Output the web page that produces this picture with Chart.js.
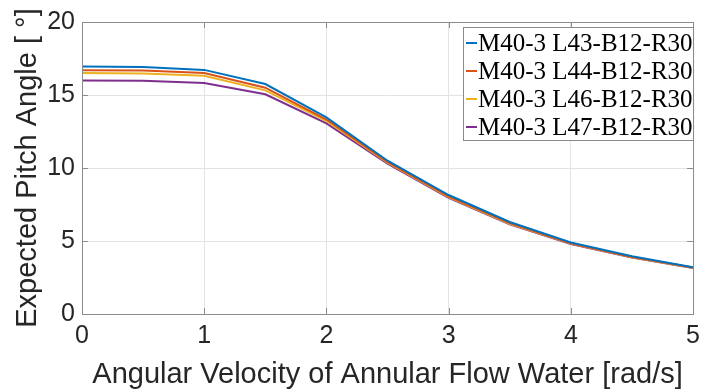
<!DOCTYPE html>
<html>
<head>
<meta charset="utf-8">
<script src="https://cdn.jsdelivr.net/npm/chart.js@4"></script>
<style>
  html, body { margin: 0; padding: 0; background: #fff; }
  #wrap { width: 707px; height: 392px; }
</style>
</head>
<body>
<div id="wrap"><canvas id="chart" width="707" height="392"></canvas></div>
<script>
var omega = [0, 0.5, 1, 1.5, 2, 2.5, 3, 3.5, 4, 4.5, 5];
var seriesNames = ['M40-3 L43-B12-R30', 'M40-3 L44-B12-R30', 'M40-3 L46-B12-R30', 'M40-3 L47-B12-R30'];
var pitchL43 = [16.95, 16.92, 16.72, 15.75, 13.47, 10.5, 8.15, 6.3, 4.9, 3.95, 3.2];
var pitchL44 = [16.7, 16.68, 16.5, 15.5, 13.32, 10.42, 8.05, 6.22, 4.85, 3.9, 3.18];
var pitchL46 = [16.5, 16.48, 16.32, 15.32, 13.22, 10.36, 8.0, 6.18, 4.82, 3.88, 3.17];
var pitchL47 = [16.0, 15.97, 15.82, 15.05, 13.05, 10.3, 7.95, 6.15, 4.8, 3.87, 3.15];
var xTicks = [0, 1, 2, 3, 4, 5];
var yTicks = [0, 5, 10, 15, 20];

var colors = ['#0072BD', '#D95319', '#EDB120', '#7E2F8E'];
var allSeries = [pitchL43, pitchL44, pitchL46, pitchL47];

var datasets = [];
for (var i = 0; i < allSeries.length; i++) {
    datasets.push({
        label: seriesNames[i],
        data: omega.map(function(x, j) { return {x: x, y: allSeries[i][j]}; }),
        borderColor: colors[i],
        backgroundColor: colors[i],
        borderWidth: 2,
        pointRadius: 0,
        tension: 0,
        fill: false
    });
}

// legend box drawn inside the plot, top right
var boxLegend = {
    id: 'boxLegend',
    afterDraw: function(chart) {
        var ctx = chart.ctx;
        var x0 = 463, y0 = 27, w = 230, h = 113;
        ctx.save();
        ctx.fillStyle = '#fff';
        ctx.fillRect(x0, y0, w, h);
        ctx.strokeStyle = '#8a8a8a';
        ctx.lineWidth = 1;
        ctx.strokeRect(x0 + 0.5, y0 + 0.5, w, h);
        ctx.font = '25px "Liberation Serif", "Times New Roman", serif';
        ctx.textBaseline = 'middle';
        chart.data.datasets.forEach(function(ds, k) {
            var yy = y0 + 16 + k * 28;
            ctx.strokeStyle = ds.borderColor;
            ctx.lineWidth = 2;
            ctx.beginPath();
            ctx.moveTo(x0 + 3, yy);
            ctx.lineTo(x0 + 14, yy);
            ctx.stroke();
            ctx.fillStyle = '#000';
            ctx.fillText(ds.label, x0 + 15, yy + 1);
        });
        ctx.restore();
    }
};

// box around plot + inward ticks (matlab style)
var frame = {
    id: 'frame',
    afterDatasetsDraw: function(chart) {
        var a = chart.chartArea, ctx = chart.ctx;
        var xs = chart.scales.x, ys = chart.scales.y;
        ctx.save();
        ctx.strokeStyle = '#8c8c8c';
        ctx.lineWidth = 1;
        ctx.strokeRect(a.left + 0.5, a.top + 0.5, a.right - a.left, a.bottom - a.top);
        ctx.beginPath();
        xTicks.forEach(function(t) {
            var px = Math.round(xs.getPixelForValue(t)) + 0.5;
            ctx.moveTo(px, a.bottom); ctx.lineTo(px, a.bottom - 6);
            ctx.moveTo(px, a.top); ctx.lineTo(px, a.top + 6);
        });
        yTicks.forEach(function(t) {
            var py = Math.round(ys.getPixelForValue(t)) + 0.5;
            ctx.moveTo(a.left, py); ctx.lineTo(a.left + 6, py);
            ctx.moveTo(a.right, py); ctx.lineTo(a.right - 6, py);
        });
        ctx.stroke();
        ctx.restore();
    }
};

var tickFont = { family: '"Liberation Sans", Arial, sans-serif', size: 25 };
var titleFont = { family: '"Liberation Sans", Arial, sans-serif', size: 29 };

new Chart(document.getElementById('chart').getContext('2d'), {
    type: 'line',
    data: { datasets: datasets },
    plugins: [frame, boxLegend],
    options: {
        responsive: false,
        animation: false,
        layout: { padding: { top: 22, right: 10, left: 0, bottom: 0 } },
        plugins: { legend: { display: false }, tooltip: { enabled: false } },
        scales: {
            x: {
                type: 'linear',
                min: 0, max: 5,
                afterBuildTicks: function(s) { s.ticks = xTicks.map(function(v) { return {value: v}; }); },
                afterFit: function(s) { s.height = 78; },
                grid: { color: '#e3e3e3', drawTicks: false },
                border: { display: false },
                ticks: { font: tickFont, color: '#262626', padding: 7, maxRotation: 0 },
                title: { display: true, text: 'Angular Velocity of Annular Flow Water [rad/s]', font: titleFont, color: '#262626', padding: { top: 0, bottom: 0 } }
            },
            y: {
                min: 0, max: 20,
                afterBuildTicks: function(s) { s.ticks = yTicks.map(function(v) { return {value: v}; }); },
                afterFit: function(s) { s.width = 82; },
                grid: { color: '#e3e3e3', drawTicks: false },
                border: { display: false },
                ticks: { font: tickFont, color: '#262626', padding: 7 },
                title: { display: true, text: 'Expected Pitch Angle [ °]', font: titleFont, color: '#262626', padding: { top: 11, bottom: 0 } }
            }
        }
    }
});
</script>
</body>
</html>
